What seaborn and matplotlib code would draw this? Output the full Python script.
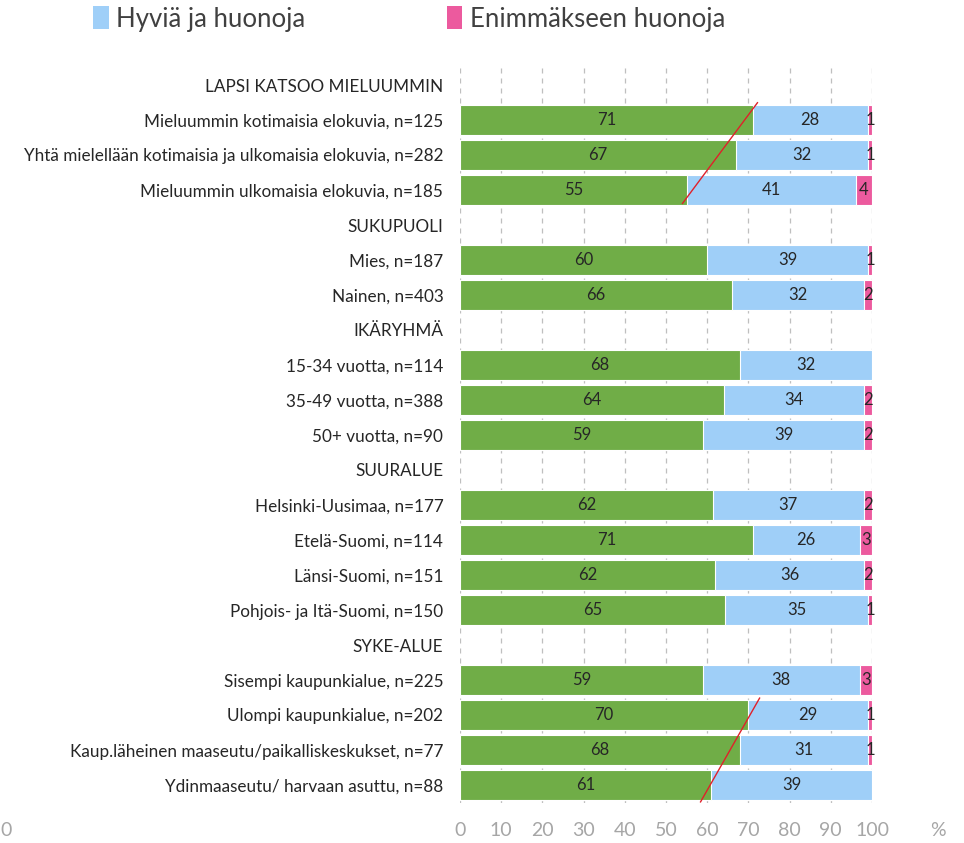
import matplotlib
matplotlib.use("Agg")
import matplotlib.pyplot as plt
import seaborn as sns
import numpy as np
import pandas as pd
from matplotlib.patches import Patch

labels = [
    "LAPSI KATSOO MIELUUMMIN",
    "Mieluummin kotimaisia elokuvia, n=125",
    "Yhtä mielellään kotimaisia ja ulkomaisia elokuvia, n=282",
    "Mieluummin ulkomaisia elokuvia, n=185",
    "SUKUPUOLI",
    "Mies, n=187",
    "Nainen, n=403",
    "IKÄRYHMÄ",
    "15-34 vuotta, n=114",
    "35-49 vuotta, n=388",
    "50+ vuotta, n=90",
    "SUURALUE",
    "Helsinki-Uusimaa, n=177",
    "Etelä-Suomi, n=114",
    "Länsi-Suomi, n=151",
    "Pohjois- ja Itä-Suomi, n=150",
    "SYKE-ALUE",
    "Sisempi kaupunkialue, n=225",
    "Ulompi kaupunkialue, n=202",
    "Kaup.läheinen maaseutu/paikalliskeskukset, n=77",
    "Ydinmaaseutu/ harvaan asuttu, n=88",
]
nan = np.nan
good = [nan, 71, 67, 55, nan, 60, 66, nan, 68, 64, 59, nan, 62, 71, 62, 65, nan, 59, 70, 68, 61]
mixed = [nan, 28, 32, 41, nan, 39, 32, nan, 32, 34, 39, nan, 37, 26, 36, 35, nan, 38, 29, 31, 39]
bad = [nan, 1, 1, 4, nan, 1, 2, nan, 0, 2, 2, nan, 2, 3, 2, 1, nan, 3, 1, 1, 0]
series_names = ["Enimmäkseen hyviä", "Hyviä ja huonoja", "Enimmäkseen huonoja"]
colors = ["#70AD47", "#9FCFF8", "#EC5A9E"]
xticks = [0, 10, 20, 30, 40, 50, 60, 70, 80, 90, 100]

df = pd.DataFrame({"label": labels, "good": good, "mixed": mixed, "bad": bad})
tot = df[["good", "mixed", "bad"]].sum(axis=1, min_count=1)
df["w_good"] = df["good"] / tot * 100
df["w_mixed"] = df["mixed"] / tot * 100
df["w_bad"] = df["bad"] / tot * 100
df["c1"] = df["w_good"]
df["c2"] = df["w_good"] + df["w_mixed"]
df["c3"] = df["c2"] + df["w_bad"]

plt.rcParams["font.family"] = ["Lato", "DejaVu Sans"]
fig = plt.figure(figsize=(9.64, 8.43), dpi=100)
ax = fig.add_axes([460 / 964, 1 - 802.5 / 843, 412 / 964, 735 / 843])

for col, c in zip(["c3", "c2", "c1"], colors[::-1]):
    sns.barplot(data=df, x=col, y="label", order=labels, orient="h", color=c,
                width=0.83, edgecolor="white", linewidth=0.8, ax=ax, errorbar=None,
                saturation=1)

for i, row in df.iterrows():
    if np.isnan(row["good"]):
        continue
    starts = [0, row["c1"], row["c2"]]
    widths = [row["w_good"], row["w_mixed"], row["w_bad"]]
    vals = [row["good"], row["mixed"], row["bad"]]
    for s, w, v in zip(starts, widths, vals):
        if v > 0:
            ax.text(s + w / 2, i, f"{int(v)}", ha="center", va="center",
                    fontsize=12, color="#262626")

ax.set_xlim(0, 100)
ax.set_ylim(len(labels) - 0.5, -0.5)
ax.set_xticks(xticks)
ax.set_xticklabels([str(t) for t in xticks])
ax.set_xlabel("")
ax.set_ylabel("")
ax.tick_params(axis="x", length=0, pad=14, labelsize=14, labelcolor="#A6A6A6")
ax.tick_params(axis="y", length=0, pad=12, labelsize=12.3, labelcolor="#262626")
for sp in ax.spines.values():
    sp.set_visible(False)
ax.set_axisbelow(True)
ax.grid(axis="x", color="#BFBFBF", linestyle=(0, (4, 4)), linewidth=0.9)
ax.grid(axis="y", visible=False)

# red annotation lines
ax.plot([72.3, 53.9], [0.49, 3.4], color="#E0202A", lw=1, solid_capstyle="butt")
ax.plot([72.8, 58.3], [17.5, 20.5], color="#E0202A", lw=1, solid_capstyle="butt", clip_on=False)

fig.text(938 / 964, 1 - 830 / 843, "%", ha="center", va="center", fontsize=14, color="#A6A6A6")
fig.text(0.0, 1 - 830 / 843, "0", ha="left", va="center", fontsize=14, color="#A6A6A6")

handles = [Patch(facecolor=colors[1]), Patch(facecolor=colors[2])]
fig.legend(handles, series_names[1:], loc="center left", ncol=2,
           bbox_to_anchor=(70 / 964, 1 - 19 / 843), frameon=False, fontsize=18.5,
           handlelength=0.6, handleheight=1.0, handletextpad=0.3, columnspacing=5.5,
           labelcolor="#404040")

fig.savefig("out.png", dpi=100)
